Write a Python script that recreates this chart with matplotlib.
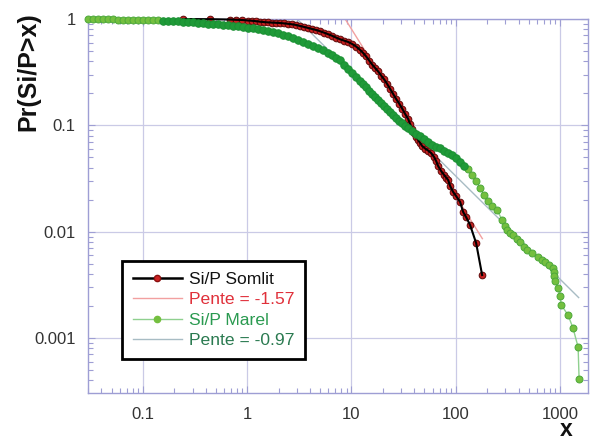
import matplotlib
matplotlib.use('Agg')
import matplotlib.pyplot as plt
from matplotlib.lines import Line2D
from matplotlib import ticker
import numpy as np

plt.rcParams['font.family'] = ['Liberation Sans', 'DejaVu Sans']

# ---- data ----
somlit_x = [0.243, 0.442, 0.687, 0.784, 0.896, 1.022, 1.117, 1.220, 1.332, 1.455,
            1.590, 1.736, 1.897, 2.072, 2.263, 2.473, 2.701, 2.951, 3.223, 3.520,
            3.845, 4.201, 4.588, 5.012, 5.474, 5.979, 6.531, 7.134, 7.793, 8.511,
            9.299, 10.16, 11.10, 12.12, 12.95, 13.84, 14.78, 15.79, 16.88, 18.03,
            19.27, 20.59, 21.99, 23.50, 25.11, 26.83, 28.66, 30.63, 32.73, 34.97,
            36.54, 38.19, 39.92, 41.72, 43.60, 45.57, 47.63, 50.88, 54.37, 58.10,
            62.08, 64.88, 67.81, 72.44, 77.41, 80.91, 84.56, 88.38, 94.43, 100.9,
            110.2, 117.8, 125.8, 137.4, 156.9, 179.1]
somlit_y = [1.0, 0.996, 0.989, 0.983, 0.979, 0.968, 0.962, 0.953, 0.943, 0.935,
            0.929, 0.925, 0.921, 0.917, 0.909, 0.901, 0.891, 0.878, 0.859, 0.841,
            0.823, 0.805, 0.788, 0.766, 0.743, 0.719, 0.695, 0.668, 0.644, 0.626,
            0.608, 0.582, 0.550, 0.511, 0.479, 0.444, 0.407, 0.373, 0.346, 0.321,
            0.294, 0.270, 0.245, 0.2196, 0.197, 0.1768, 0.1604, 0.1439, 0.1277, 0.1147,
            0.1028, 0.0923, 0.0847, 0.0776, 0.0727, 0.0682, 0.0639, 0.0605, 0.0579, 0.0549,
            0.0503, 0.0461, 0.0414, 0.0372, 0.0341, 0.0323, 0.0306, 0.0269, 0.0236, 0.0216,
            0.0190, 0.0153, 0.0137, 0.01153, 0.00781, 0.00391]

marel_x = [0.0299, 0.0334, 0.0373, 0.0416, 0.0465, 0.0519, 0.0580, 0.0648, 0.0723, 0.0807,
           0.0901, 0.1007, 0.1124, 0.1255, 0.1402, 0.1565, 0.1748, 0.1952, 0.2180, 0.2434,
           0.2718, 0.3035, 0.3389, 0.3785, 0.4226, 0.4721, 0.5272, 0.5886, 0.6573, 0.7339,
           0.8196, 0.9155, 1.022, 1.142, 1.275, 1.423, 1.590, 1.776, 1.983, 2.214,
           2.473, 2.761, 3.083, 3.443, 3.845, 4.294, 4.795, 5.355, 5.979, 6.531,
           7.134, 7.793, 8.511, 9.299, 10.16, 11.10, 12.12, 12.95, 13.84, 14.78,
           15.79, 16.88, 18.03, 19.27, 20.59, 21.99, 23.50, 25.11, 26.83, 28.66,
           30.63, 32.73, 34.97, 38.19, 41.72, 45.57, 49.78, 54.37, 59.38, 64.88,
           70.87, 77.41, 84.56, 92.37, 100.9, 110.2, 120.4, 131.5, 143.7, 156.9,
           171.4, 187.3, 204.5, 223.4, 249.5, 278.6, 297.6, 311.1, 332.4, 355.2,
           387.9, 414.6, 452.8, 483.7, 540.2, 616.8, 673.8, 719.8, 786.3, 858.9,
           868.4, 878.0, 897.6, 959.2, 1002, 1027, 1196, 1336, 1492, 1525]
marel_y = [1.0, 1.0, 0.9978, 0.9957, 0.9935, 0.9914, 0.9892, 0.9871, 0.9849, 0.9828,
           0.9807, 0.9786, 0.9765, 0.9723, 0.9681, 0.9639, 0.9597, 0.9556, 0.9494, 0.9432,
           0.9371, 0.9291, 0.9211, 0.9132, 0.9054, 0.8976, 0.8900, 0.8805, 0.8710, 0.8617,
           0.8507, 0.8416, 0.8308, 0.8163, 0.8021, 0.7864, 0.7711, 0.7530, 0.7335, 0.7134,
           0.6939, 0.664, 0.636, 0.609, 0.583, 0.558, 0.535, 0.511, 0.482, 0.459,
           0.434, 0.411, 0.373, 0.3386, 0.3105, 0.2877, 0.2639, 0.2473, 0.2292, 0.2126,
           0.1992, 0.1866, 0.1749, 0.1639, 0.1536, 0.1439, 0.1334, 0.1250, 0.1172, 0.1110,
           0.1051, 0.0996, 0.0943, 0.0884, 0.0837, 0.0793, 0.0743, 0.0697, 0.0660, 0.0632,
           0.0612, 0.0579, 0.0555, 0.0526, 0.0493, 0.0452, 0.0419, 0.0388, 0.0341, 0.0299,
           0.0257, 0.0221, 0.0194, 0.0174, 0.01597, 0.01286, 0.01129, 0.01035, 0.00970, 0.00929,
           0.00852, 0.00798, 0.00716, 0.00671, 0.00629, 0.00577, 0.00547, 0.00518, 0.00485, 0.00455,
           0.00417, 0.00382, 0.00343, 0.00295, 0.00246, 0.00205, 0.00164, 0.00123, 0.00082, 0.00041]

fit_somlit_x = [8.7, 180.0]      # Pente = -1.57
fit_somlit_y = [1.0, 0.0086]
fit_marel_x = [3.0, 1510.0]      # Pente = -0.97
fit_marel_y = [1.0, 0.0024]

legend_labels = ['Si/P Somlit', 'Pente = -1.57', 'Si/P Marel', 'Pente = -0.97']
x_ticks = [0.1, 1, 10, 100, 1000]
y_ticks = [0.001, 0.01, 0.1, 1]

assert len(somlit_x) == len(somlit_y)
assert len(marel_x) == len(marel_y)

# ---- figure ----
W, H = 593, 441
fig = plt.figure(figsize=(W / 100, H / 100), dpi=100)
ax = fig.add_axes([88 / W, 48 / H, 500 / W, 374 / H])
ax.set_xscale('log')
ax.set_yscale('log')
ax.set_xlim(0.0297, 1856)
ax.set_ylim(3.04e-4, 1.0)

ax.grid(True, which='major', color='#cacae6', lw=0.9)
ax.set_axisbelow(True)
for s in ax.spines.values():
    s.set_color('#9e9ed4')
    s.set_linewidth(1.0)
ax.tick_params(which='both', direction='in', top=True, right=True,
               colors='#9e9ed4', labelcolor='#333333', labelsize=12)
ax.tick_params(axis='x', which='major', pad=10)
ax.tick_params(axis='y', which='major', pad=9)
ax.tick_params(which='major', length=5, width=0.8)
ax.tick_params(which='minor', length=3.5, width=0.8)
ax.set_xticks(x_ticks)
ax.set_yticks(y_ticks)
fmt = ticker.FuncFormatter(lambda v, p: f"{v:g}")
ax.xaxis.set_major_formatter(fmt)
ax.yaxis.set_major_formatter(fmt)
ax.xaxis.set_minor_formatter(ticker.NullFormatter())
ax.yaxis.set_minor_formatter(ticker.NullFormatter())

# fitted power laws
ax.plot(fit_somlit_x, fit_somlit_y, color='#f2a0a0', lw=1.0, zorder=2)
ax.plot(fit_marel_x, fit_marel_y, color='#a8bcc4', lw=1.0, zorder=2)

# Somlit series
ax.plot(somlit_x, somlit_y, ls='none', marker='o', ms=4.8, mfc='#c82020',
        mec='#5e0a0a', mew=0.7, zorder=3, clip_on=False)
ax.plot(somlit_x, somlit_y, color='black', lw=1.5, zorder=3.5, clip_on=False)

# Marel series
mx = np.array(marel_x)
my = np.array(marel_y)
dense = (mx > 0.15) & (mx < 130)
ax.plot(mx, my, color='#8fd08f', lw=1.0, zorder=4, clip_on=False)
ax.plot(mx[~dense], my[~dense], ls='none', marker='o', ms=5.0, mfc='#74bf3f',
        mec='#4ca83a', mew=0.7, zorder=4.2, clip_on=False)
ax.plot(mx[dense], my[dense], ls='none', marker='o', ms=5.4, mfc='#1f9a38',
        mec='#1a9033', mew=0.7, zorder=4.2, clip_on=False)

# legend
h1 = Line2D([], [], color='black', lw=1.8, marker='o', ms=4.5, mfc='#cc2222', mec='#8a1010')
h2 = Line2D([], [], color='#f2a0a0', lw=1.0)
h3 = Line2D([], [], color='#8fd08f', lw=1.0, marker='o', ms=4.5, mfc='#74bf3f', mec='#74bf3f')
h4 = Line2D([], [], color='#a8bcc4', lw=1.0)
leg = ax.legend([h1, h2, h3, h4], legend_labels, loc='lower left',
                bbox_to_anchor=(0.068, 0.091), borderaxespad=0, frameon=True,
                fancybox=False, edgecolor='black', fontsize=12.6, handlelength=2.85,
                numpoints=1, labelspacing=0.3, borderpad=0.6, handletextpad=0.4,
                framealpha=1)
leg.get_frame().set_linewidth(2.0)
for t, c in zip(leg.get_texts(), ['#111111', '#e0303a', '#2a9a50', '#2a7a50']):
    t.set_color(c)
leg.set_zorder(10)

# axis labels
fig.text(28 / W, 1 - 72 / H, 'Pr(Si/P>x)', rotation=90, fontsize=18,
         fontweight='bold', ha='center', va='center', color='#111111')
fig.text(566 / W, 1 - 430 / H, 'x', fontsize=16.5, fontweight='bold',
         ha='center', va='center', color='#111111')

fig.savefig('out.png', dpi=100)
